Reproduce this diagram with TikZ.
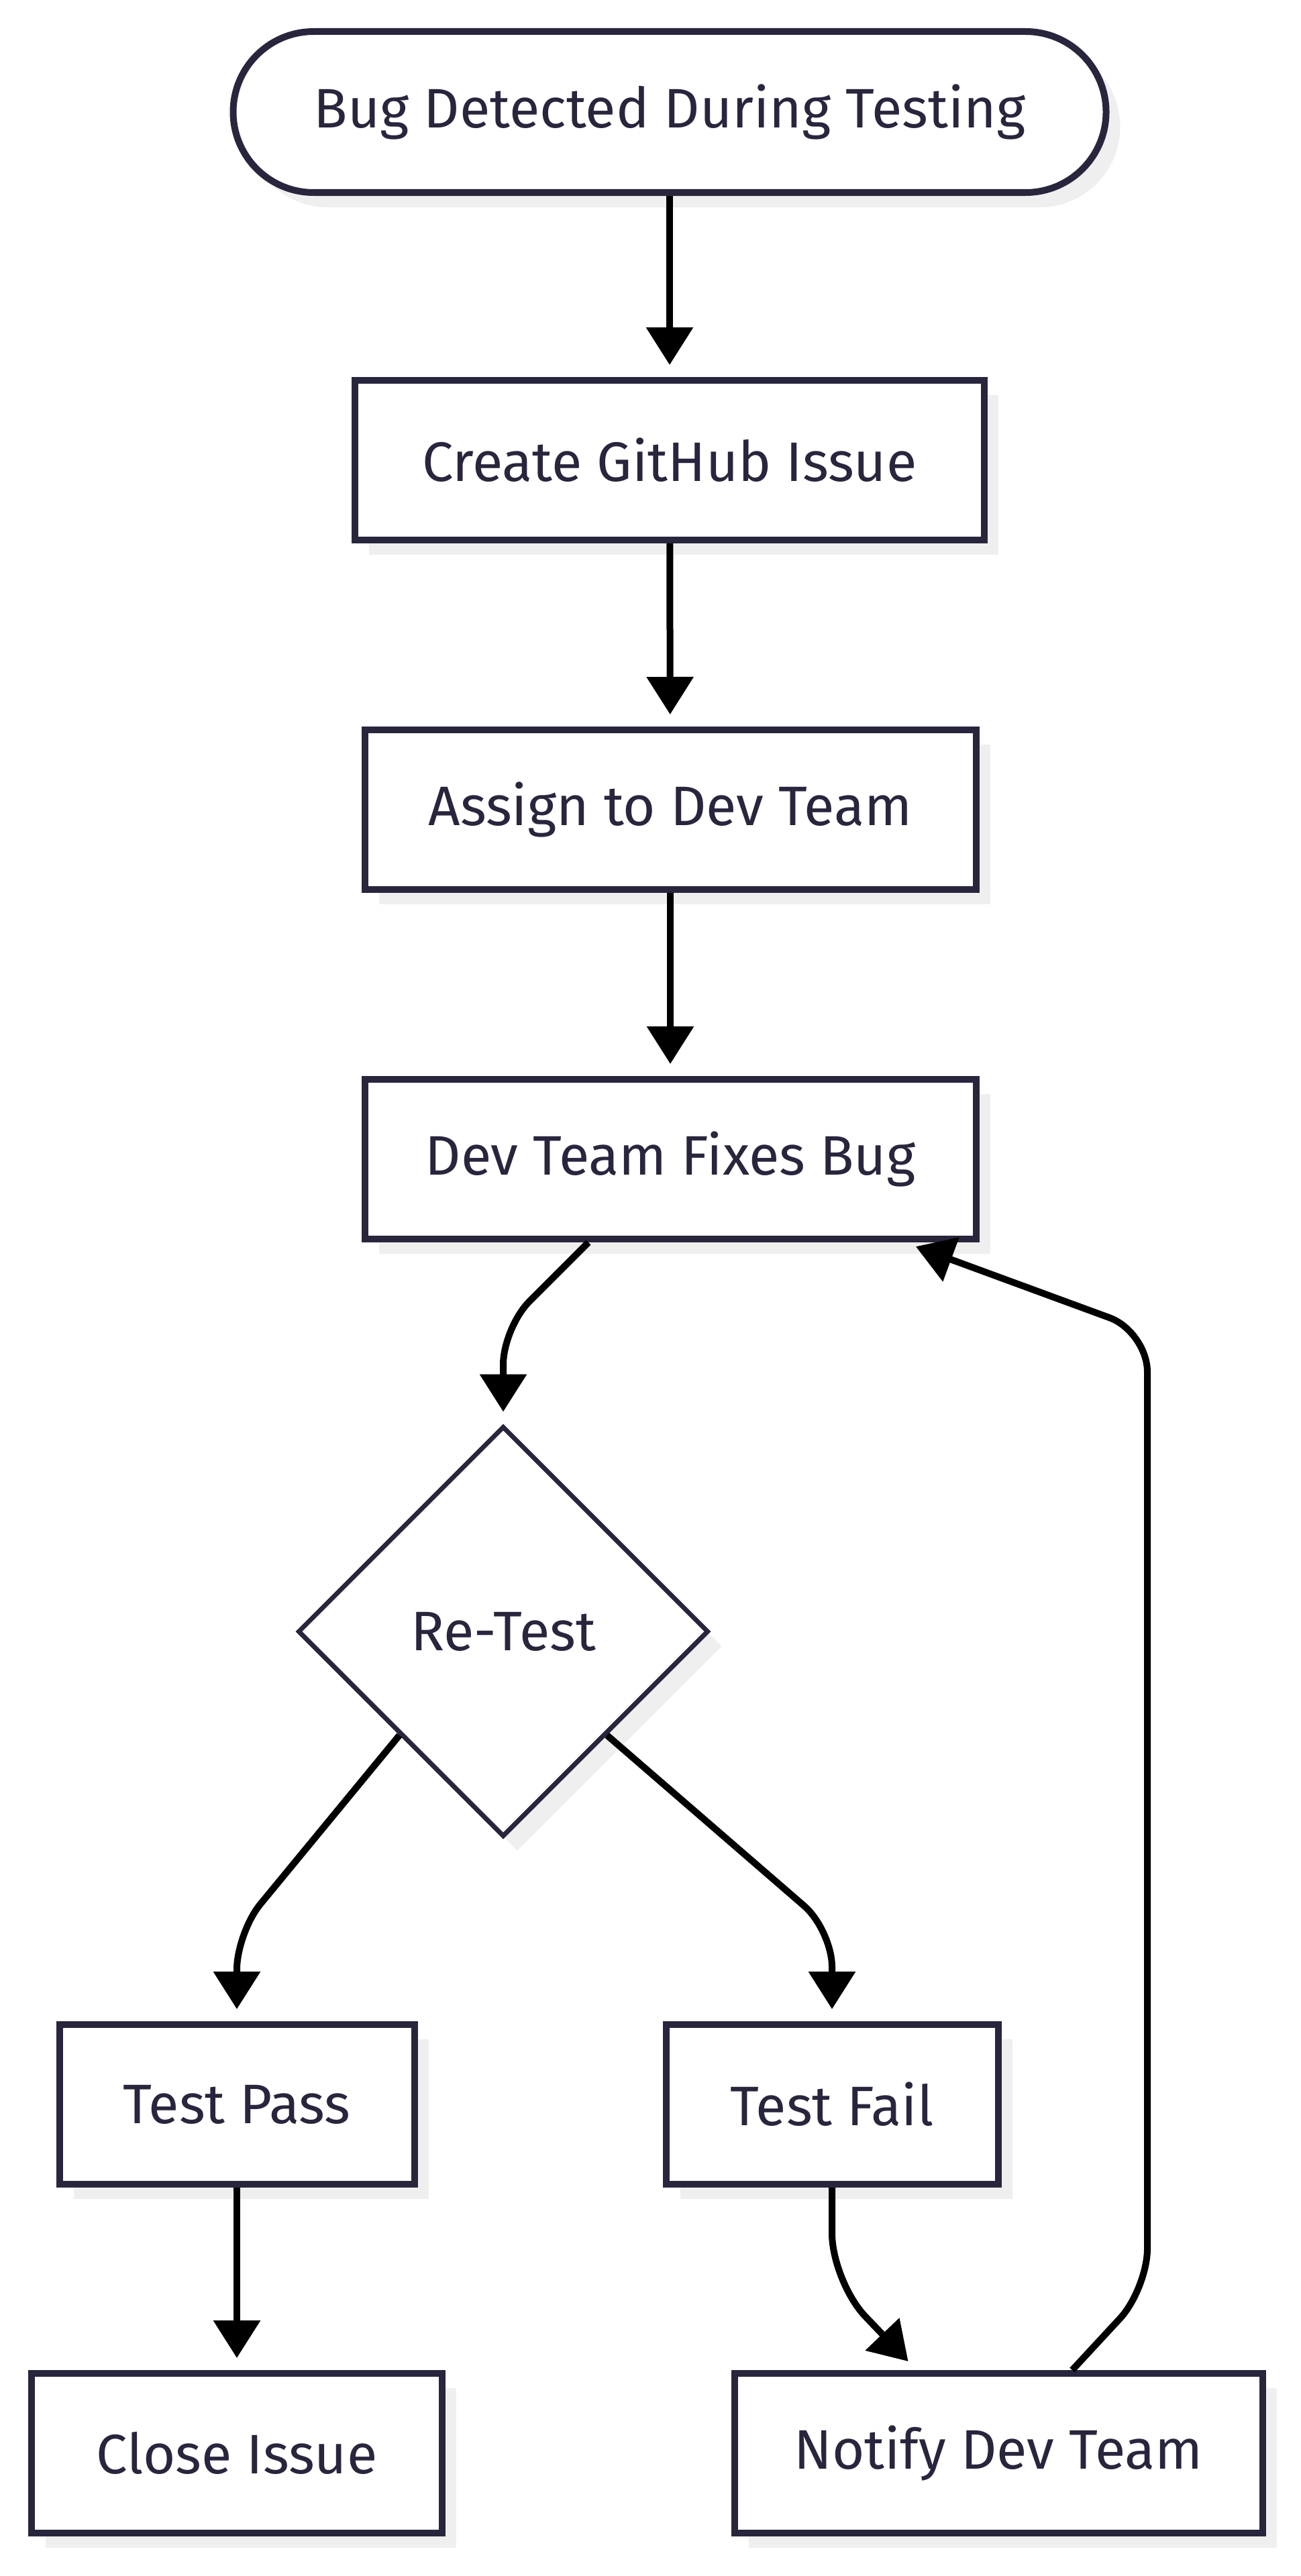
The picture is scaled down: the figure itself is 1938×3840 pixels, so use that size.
\documentclass[tikz,border=0pt]{standalone}
\usepackage{fontspec}
\setmainfont{Fira Sans}
\usetikzlibrary{arrows.meta,shapes.geometric,shadows}
\definecolor{boxc}{HTML}{28263D}
\definecolor{shadowc}{HTML}{EFEFEF}
\begin{document}
\begin{tikzpicture}[x=1pt,y=-1pt,
  base/.style={draw=boxc, fill=white, text=boxc, line width=10pt,
    font=\fontsize{83}{98}\selectfont, inner sep=0pt,
    drop shadow={shadow xshift=21pt, shadow yshift=-22pt, fill=shadowc, opacity=1}},
  procbox/.style={base, rectangle, minimum height=238pt},
  startbox/.style={base, rectangle, rounded corners=120pt, minimum height=240pt},
  decbox/.style={base, diamond, line width=7pt, minimum width=612pt, minimum height=612pt},
  arr/.style={-{Triangle[length=56pt,width=68pt]}, line width=10pt, black,
    shorten >=18pt, rounded corners=55pt}]
\useasboundingbox (0,0) rectangle (1938,3840);
\fill[white] (0,0) rectangle (1938,3840);

\node[startbox, minimum width=1301pt] (start) at (998,167) {Bug Detected During Testing};
\node[procbox, minimum width=938pt] (create) at (998,686) {Create GitHub Issue};
\node[procbox, minimum width=911pt] (assign) at (999,1207) {Assign to Dev Team};
\node[procbox, minimum width=911pt] (fix) at (999,1728) {Dev Team Fixes Bug};
\node[decbox] (retest) at (750,2432) {Re-Test};
\node[procbox, minimum width=529pt] (tpass) at (353,3137) {Test Pass};
\node[procbox, minimum width=495pt] (tfail) at (1240,3137) {Test Fail};
\node[procbox, minimum width=612pt] (close) at (353,3657) {Close Issue};
\node[procbox, minimum width=787pt] (notify) at (1488,3657) {Notify Dev Team};

\coordinate (c3) at (750,1979);
\coordinate (c4) at (353,2881);
\coordinate (c5) at (1240,2877);
\coordinate (c7) at (1240,3401);
\coordinate (c8a) at (1710,3412);
\coordinate (c8b) at (1710,1985);

\draw[arr] (start) -- (create);
\draw[arr] (create) -- (assign);
\draw[arr] (assign) -- (fix);
\draw[arr] ([xshift=-122pt]fix.south) -- (c3) -- (retest.north);
\draw[arr] (retest.south west) -- (c4) -- (tpass.north);
\draw[arr] (retest.south east) -- (c5) -- (tfail.north);
\draw[arr] (tpass) -- (close);
\draw[arr, rounded corners=72pt] (tfail.south) -- (c7) -- ([xshift=-122pt]notify.north);
\draw[arr, rounded corners=60pt] ([xshift=110pt]notify.north) -- (c8a) -- (c8b) -- ([xshift=349pt]fix.south);
\end{tikzpicture}
\end{document}
